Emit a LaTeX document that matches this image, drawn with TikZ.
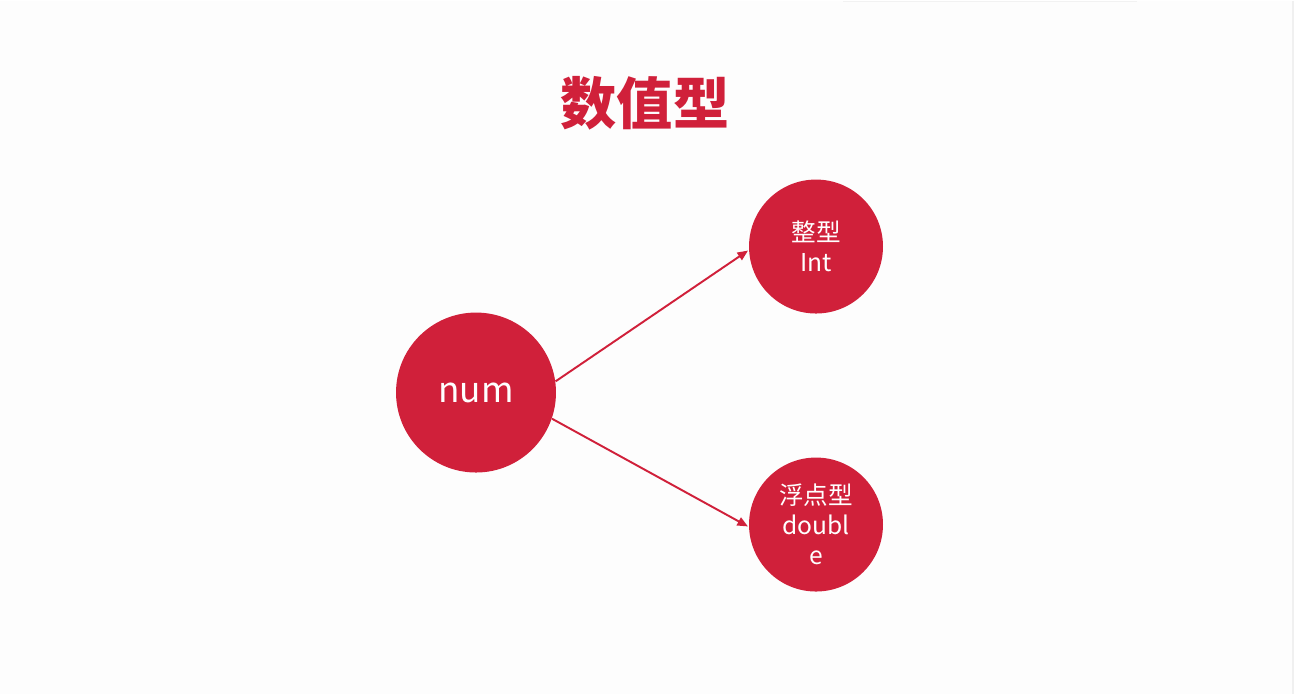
\documentclass[tikz,border=0pt]{standalone}
\usepackage{fontspec}
\setmainfont{Noto Sans CJK SC}
\newfontfamily\cjk{Noto Sans CJK SC}
\usetikzlibrary{arrows.meta}
\definecolor{rred}{RGB}{208,32,58}
\definecolor{bg}{RGB}{253,253,253}
\tikzset{
  bigc/.style={circle, fill=rred, minimum size=3.2cm, inner sep=0pt, text=white, font=\cjk\fontsize{20}{24}\selectfont},
  smallc/.style={circle, fill=rred, minimum size=2.68cm, inner sep=0pt, text=white, align=center, font=\cjk\fontsize{14}{17}\selectfont},
  link/.style={draw=rred, line width=1.1pt, -{Triangle[length=6pt,width=5pt]}, shorten >=0.5pt},
  titletext/.style={text=rred, font=\cjk\bfseries\fontsize{32}{36}\selectfont}
}
\begin{document}
\begin{tikzpicture}[x=0.02cm,y=-0.02cm]
\fill[bg] (0,0) rectangle (1294,693);
\draw[black!6, line width=0.6pt] (1293,0) -- (1293,693);
\draw[black!5, line width=0.6pt] (843,1) -- (1137,1);
\useasboundingbox (0,0) rectangle (1294,693);
\node[titletext] (title) at (645,103) {数值型};
\node[bigc] (num) at (476,392) {num};
\node[smallc] (int) at (816,246) {整型\\Int};
\node[smallc] (dbl) at (816,524) {浮点型\\doubl\\e};
\draw[link] (num.8) -- (int.183);
\draw[link] (num.-19) -- (dbl.182);
\end{tikzpicture}
\end{document}
